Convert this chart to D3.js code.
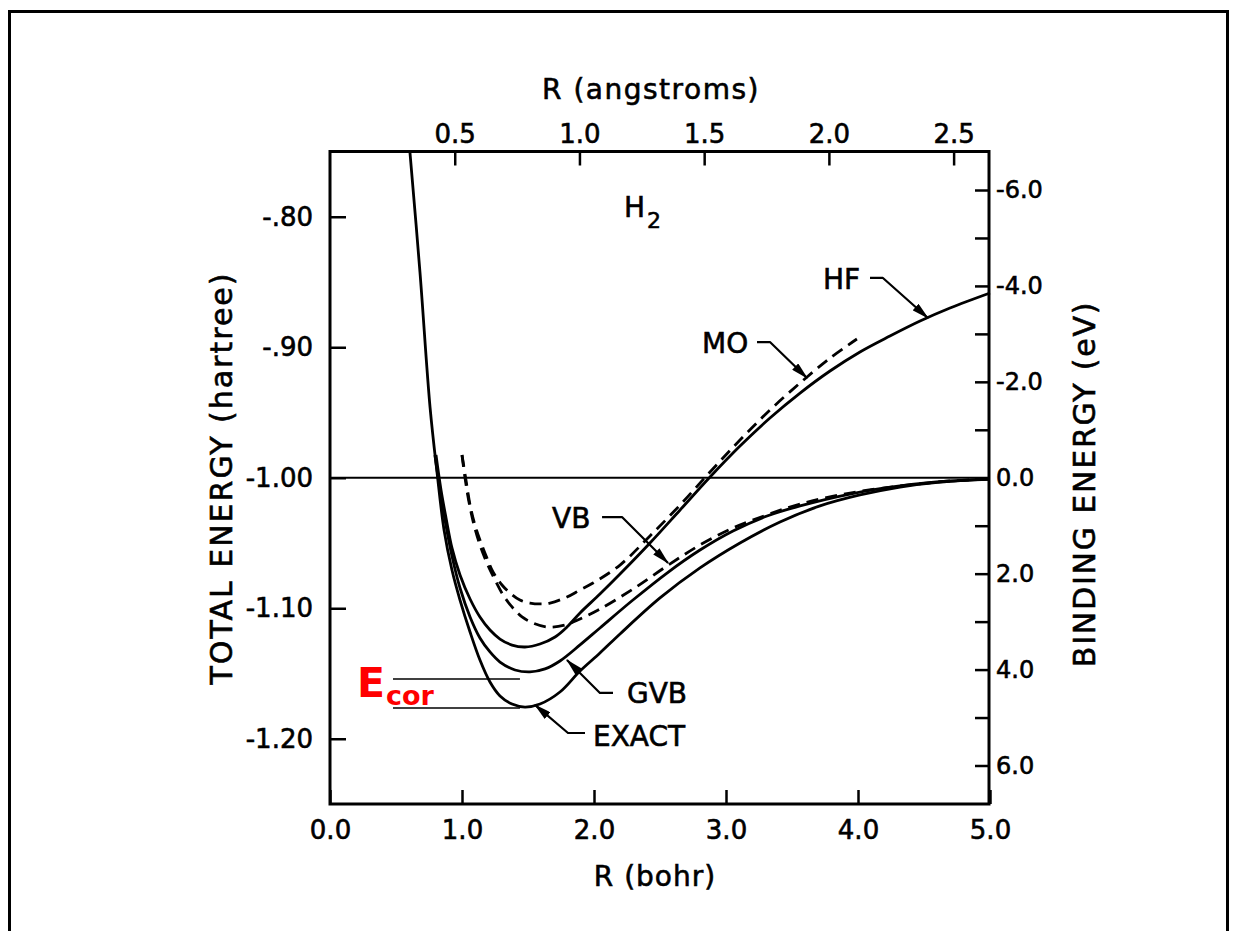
<!DOCTYPE html>
<html><head><meta charset="utf-8">
<script src="https://cdn.jsdelivr.net/npm/d3@7"></script>
<style>
body{margin:0;background:#fff;}
svg{display:block;}
text{font-family:"DejaVu Sans",sans-serif;fill:#000;stroke:#000;stroke-width:0.6px;}
</style></head><body>
<svg id="c" width="1237" height="931"></svg>
<script>
// ---------- axis ticks ----------
const bohrTicks = [0, 1, 2, 3, 4, 5];
const bohrLabels = ["0.0", "1.0", "2.0", "3.0", "4.0", "5.0"];
const angTicks = [0.5, 1.0, 1.5, 2.0, 2.5];
const angLabels = ["0.5", "1.0", "1.5", "2.0", "2.5"];
const hartreeTicks = [-0.8, -0.9, -1.0, -1.1, -1.2];
const hartreeLabels = ["-.80", "-.90", "-1.00", "-1.10", "-1.20"];
const evTicks = [-6, -5, -4, -3, -2, -1, 0, 1, 2, 3, 4, 5, 6];
const evLabels = ["-6.0", "", "-4.0", "", "-2.0", "", "0.0", "", "2.0", "", "4.0", "", "6.0"];

// ---------- series (R in bohr, E in hartree) ----------
const exactR = [0.606,0.682,0.758,0.811,0.864,0.924,0.985,1.061,1.136,1.212,1.288,1.379,1.477,1.591,1.742,1.894,2.045,2.197,2.5,2.803,3.106,3.409,3.712,4.015,4.318,4.621,5.0];
const exactE = [-0.751,-0.843,-0.946,-0.996,-1.040,-1.0707,-1.0937,-1.1182,-1.1397,-1.1565,-1.1672,-1.1734,-1.1757,-1.1734,-1.1642,-1.1481,-1.1343,-1.1197,-1.0921,-1.0691,-1.0500,-1.0339,-1.0216,-1.0132,-1.0071,-1.0033,-1.0010];

const gvbR = [0.795,0.833,0.871,0.924,0.985,1.061,1.136,1.212,1.288,1.402,1.515,1.629,1.742,1.894,2.045,2.295,2.553,2.803,3.053,3.311,3.561,3.939,4.318,4.697,5.0];
const gvbE = [-0.9826,-1.0094,-1.0324,-1.0600,-1.0845,-1.1067,-1.1228,-1.1335,-1.1412,-1.1473,-1.1488,-1.1465,-1.1404,-1.1281,-1.1151,-1.0937,-1.0730,-1.0554,-1.0408,-1.0293,-1.0216,-1.0125,-1.0063,-1.0025,-1.0010];

const hfR = [0.803,0.841,0.879,0.924,0.985,1.061,1.136,1.212,1.288,1.379,1.477,1.591,1.705,1.795,1.894,2.045,2.197,2.424,2.652,2.879,3.106,3.333,3.561,3.788,4.015,4.242,4.470,4.697,5.0];
const hfE = [-0.9826,-1.0094,-1.0308,-1.0538,-1.0745,-1.0929,-1.1067,-1.1167,-1.1236,-1.1282,-1.1297,-1.1274,-1.1220,-1.1144,-1.1036,-1.0891,-1.0738,-1.0500,-1.0247,-0.9994,-0.9757,-0.9542,-0.9351,-0.9182,-0.9036,-0.8914,-0.8799,-0.8699,-0.8584];

const moR = [1.0,1.030,1.061,1.098,1.136,1.189,1.235,1.303,1.364,1.439,1.515,1.591,1.667,1.795,1.894,1.992,2.197,2.424,2.652,2.879,3.106,3.333,3.561,3.788,3.992];
const moE = [-0.9826,-1.0017,-1.0209,-1.0362,-1.0477,-1.0615,-1.0722,-1.0822,-1.0883,-1.0937,-1.0960,-1.0967,-1.0960,-1.0914,-1.0860,-1.0807,-1.0669,-1.0446,-1.0209,-0.9956,-0.9711,-0.9481,-0.9274,-0.9083,-0.8937];

const vbR = [1.0,1.023,1.053,1.091,1.136,1.189,1.250,1.311,1.379,1.455,1.538,1.652,1.780,1.894,2.045,2.295,2.553,2.803,3.053,3.311,3.561,3.939,4.318,4.697,5.0];
const vbE = [-0.9826,-1.0002,-1.0186,-1.0362,-1.0515,-1.0653,-1.0783,-1.0898,-1.0990,-1.1067,-1.1113,-1.1144,-1.1128,-1.1082,-1.1006,-1.0853,-1.0676,-1.0515,-1.0385,-1.0285,-1.0201,-1.0117,-1.0063,-1.0025,-1.0010];

const seriesNames = ["EXACT", "GVB", "HF", "MO", "VB"];
const seriesDashed = [false, false, false, true, true];

// label annotations: text, label anchor (R,E), leader points (R,E)
const labelNames = ["HF", "MO", "VB", "GVB", "EXACT"];
const labelAt = [[3.735,-0.8553],[2.818,-0.9044],[1.682,-1.0385],[2.250,-1.1724],[1.992,-1.2054]];
const leaderR = [[4.091,4.189,4.530],[3.235,3.333,3.614],[2.061,2.212,2.561],[2.144,2.045,1.795],[1.932,1.803,1.553]];
const leaderE = [[-0.8469,-0.8469,-0.8776],[-0.8960,-0.8960,-0.9236],[-1.0301,-1.0301,-1.0653],[-1.1649,-1.1649,-1.1397],[-1.1956,-1.1956,-1.1741]];
const ecorLevels = [-1.1542, -1.1764];
const ecorSpan = [0.477, 1.439];

const BOHR_TO_ANG = 0.529177, HARTREE_TO_EV = 27.2114;

// ---------- drawing ----------
const svg = d3.select("#c");
const x = d3.scaleLinear().domain([0, 5]).range([330, 990]);
const y = d3.scaleLinear().domain([-1.25, -0.75]).range([804, 151.5]);
const xA = d3.scaleLinear().domain([0, 5 * BOHR_TO_ANG]).range([330, 990]);
const yB = d3.scaleLinear().domain([0.25 * HARTREE_TO_EV, -0.25 * HARTREE_TO_EV]).range([804, 151.5]);

// outer border
svg.append("path").attr("d", "M9.5,940 V11.5 H1227.5 V940")
  .attr("fill", "none").attr("stroke", "#000").attr("stroke-width", 3);

function styleAxis(g, fs) {
  g.select(".domain").remove();
  g.selectAll(".tick line").attr("stroke", "#000").attr("stroke-width", 2.5);
  g.selectAll(".tick text").attr("font-size", fs).attr("fill", "#000")
    .attr("font-family", '"DejaVu Sans",sans-serif');
}

const gB = svg.append("g").attr("transform", "translate(0,804)")
  .call(d3.axisBottom(x).tickValues(bohrTicks).tickFormat((d, i) => bohrLabels[i]).tickSize(-14).tickPadding(17));
styleAxis(gB, 26);

const gT = svg.append("g").attr("transform", "translate(0,151.5)")
  .call(d3.axisTop(xA).tickValues(angTicks).tickFormat((d, i) => angLabels[i]).tickSize(-14).tickPadding(9));
styleAxis(gT, 26);

const gL = svg.append("g").attr("transform", "translate(330,0)")
  .call(d3.axisLeft(y).tickValues(hartreeTicks).tickFormat((d, i) => hartreeLabels[i]).tickSize(-16).tickPadding(17));
styleAxis(gL, 26);

const gR = svg.append("g").attr("transform", "translate(989,0)")
  .call(d3.axisRight(yB).tickValues(evTicks).tickFormat((d, i) => evLabels[i]).tickSize(-14).tickPadding(7));
styleAxis(gR, 24);

// plot frame
svg.append("rect").attr("x", 330).attr("y", 151.5).attr("width", 659).attr("height", 652.5)
  .attr("fill", "none").attr("stroke", "#000").attr("stroke-width", 3);

// zero binding energy line
svg.append("line").attr("x1", x(0)).attr("x2", x(5)).attr("y1", y(-1)).attr("y2", y(-1))
  .attr("stroke", "#000").attr("stroke-width", 2);

// axis titles
svg.append("text").attr("x", 651).attr("y", 99).attr("text-anchor", "middle")
  .attr("font-size", 28).attr("letter-spacing", 1.5).text("R (angstroms)");
svg.append("text").attr("x", 655).attr("y", 886).attr("text-anchor", "middle")
  .attr("font-size", 28).attr("letter-spacing", 1).text("R (bohr)");
svg.append("text").attr("transform", "translate(232,478) rotate(-90)").attr("text-anchor", "middle")
  .attr("font-size", 30).attr("letter-spacing", 2).text("TOTAL ENERGY (hartree)");
svg.append("text").attr("transform", "translate(1095,484) rotate(-90)").attr("text-anchor", "middle")
  .attr("font-size", 30).attr("letter-spacing", 1.8).text("BINDING ENERGY (eV)");

// curves
const allR = [exactR, gvbR, hfR, moR, vbR];
const allE = [exactE, gvbE, hfE, moE, vbE];
const line = d3.line().x(d => x(d[0])).y(d => y(d[1])).curve(d3.curveCatmullRom.alpha(0.5));
const plot = svg.append("g");
seriesNames.forEach((name, i) => {
  const pts = allR[i].map((r, j) => [r, allE[i][j]]);
  plot.append("path").datum(pts).attr("d", line)
    .attr("fill", "none").attr("stroke", "#000").attr("stroke-width", 2.8)
    .attr("stroke-dasharray", seriesDashed[i] ? "12,7" : null)
    .attr("stroke-linejoin", "round");
});

// H2 label
const h2 = svg.append("text").attr("x", 624).attr("y", 217).attr("font-size", 28);
h2.append("tspan").text("H");
h2.append("tspan").attr("font-size", 22).attr("dy", 11).attr("dx", 2).text("2");

// leader lines with arrowheads
svg.append("defs").append("marker").attr("id", "ah").attr("viewBox", "0 0 16 8")
  .attr("refX", 15).attr("refY", 4).attr("markerWidth", 8).attr("markerHeight", 4)
  .attr("markerUnits", "strokeWidth").attr("orient", "auto")
  .append("path").attr("d", "M0,0 L16,4 L0,8 z").attr("fill", "#000");

const leaderLine = d3.line().curve(d3.curveBundle.beta(0.9));
labelNames.forEach((name, i) => {
  const pts = leaderR[i].map((r, j) => [x(r), y(leaderE[i][j])]);
  svg.append("path").attr("d", d3.line()(pts)).attr("fill", "none")
    .attr("stroke", "#000").attr("stroke-width", 2.2).attr("stroke-linejoin", "round")
    .attr("marker-end", "url(#ah)");
  svg.append("text").attr("x", x(labelAt[i][0])).attr("y", y(labelAt[i][1]))
    .attr("font-size", 28).text(name);
});

// E_cor annotation
ecorLevels.forEach(e => {
  svg.append("line").attr("x1", x(ecorSpan[0])).attr("x2", x(ecorSpan[1]))
    .attr("y1", y(e)).attr("y2", y(e)).attr("stroke", "#000").attr("stroke-width", 1.6);
});
const ec = svg.append("text").attr("x", 357).attr("y", 697)
  .attr("font-family", '"Liberation Sans",Arial,sans-serif').attr("font-weight", "bold")
  .attr("font-size", 41).style("fill", "#ff0000").style("stroke", "none");
ec.append("tspan").text("E");
ec.append("tspan").attr("font-size", 27).attr("dy", 8).attr("dx", 1).text("cor");
</script></body></html>
